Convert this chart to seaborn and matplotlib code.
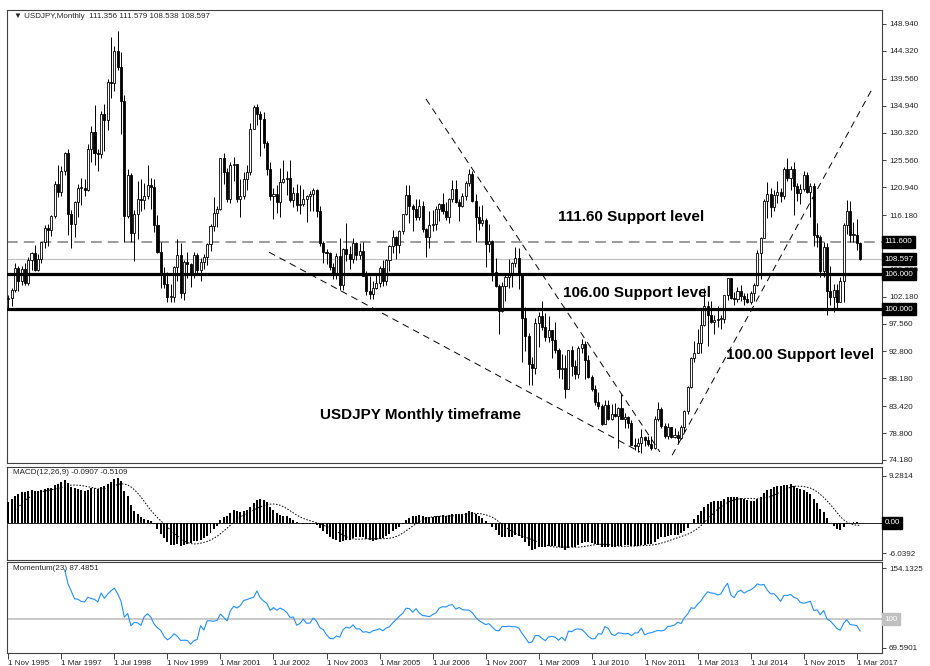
import numpy as np
import pandas as pd
import matplotlib
matplotlib.use("Agg")
import matplotlib.pyplot as plt
import seaborn as sns

sns.set_style("white")
plt.rcParams['font.family'] = ['Liberation Sans', 'DejaVu Sans']

# USDJPY monthly bars, May 1995 .. Apr 2017 (opens = previous close)
first_open = 83.7
close = [
    83.2, 84.6, 88.4, 97.4, 99.7, 101.7, 101.9, 103.4,
    107.1, 104.9, 107.0, 104.5, 108.5, 109.7, 106.8, 108.6, 111.5, 114.0, 113.6, 116.0,
    121.5, 120.2, 123.8, 126.9, 116.4, 114.6, 118.4, 120.8, 120.8, 120.5, 127.5, 130.5,
    126.9, 126.6, 133.5, 132.5, 139.0, 138.9, 144.3, 141.5, 135.7, 116.0, 123.1, 113.1,
    116.3, 119.0, 118.7, 119.4, 121.3, 121.0, 114.4, 109.9, 106.2, 104.3, 102.1, 102.2,
    107.2, 109.4, 102.8, 108.2, 107.8, 106.2, 109.4, 106.7, 108.1, 109.0, 111.2, 114.3,
    116.5, 117.3, 125.9, 123.6, 118.9, 124.7, 124.9, 118.9, 119.4, 122.3, 123.5, 131.0,
    134.7, 133.5, 132.7, 128.5, 124.0, 119.5, 119.8, 118.4, 121.8, 122.4, 122.5, 118.8,
    119.9, 117.9, 118.1, 119.0, 119.4, 119.8, 120.4, 116.8, 111.4, 109.9, 109.6, 107.2,
    105.9, 109.1, 104.2, 110.4, 109.5, 108.7, 111.4, 109.3, 110.0, 105.8, 103.1, 102.6,
    103.6, 104.6, 107.1, 104.8, 108.5, 110.9, 112.4, 111.0, 113.5, 116.3, 119.7, 117.8,
    117.2, 115.8, 117.7, 113.8, 112.5, 114.4, 114.6, 117.3, 118.1, 116.8, 115.8, 119.0,
    120.7, 118.5, 117.8, 119.5, 121.7, 123.2, 118.6, 115.8, 114.8, 115.3, 111.2, 111.7,
    106.4, 104.0, 99.7, 104.0, 105.5, 106.2, 108.0, 108.8, 106.0, 98.5, 95.5, 90.7,
    89.9, 97.6, 98.9, 97.0, 95.3, 96.4, 94.7, 93.0, 89.7, 90.0, 86.3, 93.0,
    90.3, 89.0, 93.4, 94.0, 91.3, 88.4, 86.4, 84.2, 83.5, 80.4, 83.6, 81.2,
    82.0, 81.8, 83.1, 81.2, 81.5, 80.5, 76.8, 76.6, 77.1, 78.2, 77.6, 76.9,
    76.3, 81.2, 82.9, 80.0, 78.3, 79.8, 78.1, 78.4, 77.9, 79.8, 82.5, 86.7,
    91.7, 92.6, 94.2, 97.4, 100.5, 99.1, 97.9, 98.2, 98.3, 98.4, 102.4, 105.3,
    102.0, 101.8, 103.2, 102.3, 101.8, 101.3, 102.8, 104.1, 109.6, 112.3, 118.6, 119.8,
    117.5, 119.6, 120.1, 119.4, 124.1, 122.5, 124.0, 121.2, 119.9, 120.6, 123.1, 120.2,
    121.1, 112.7, 112.5, 106.5, 110.7, 103.2, 102.1, 103.4, 101.3, 104.8, 114.5, 116.9,
    112.8, 112.8, 111.356, 108.597,
]
high = [
    85.2, 85.8, 89.3, 99.6, 100.6, 102.3, 102.5, 103.6,
    107.9, 107.5, 107.4, 108.0, 108.9, 109.8, 111.0, 109.5, 111.6, 114.5, 114.7, 116.2,
    122.0, 124.7, 124.6, 127.0, 127.5, 117.0, 118.6, 121.5, 122.5, 122.3, 128.3, 131.5,
    135.0, 127.5, 134.0, 135.3, 139.5, 146.7, 145.1, 147.7, 144.2, 136.8, 124.0, 123.4,
    117.0, 122.0, 122.4, 121.7, 124.7, 122.6, 122.3, 116.2, 111.5, 107.3, 106.4, 104.3,
    107.4, 112.0, 111.4, 108.4, 109.8, 108.0, 109.9, 109.6, 108.8, 109.5, 111.3, 114.6,
    119.2, 117.8, 126.0, 126.8, 124.3, 125.2, 126.1, 125.0, 122.3, 123.6, 124.8, 131.9,
    135.0, 135.2, 134.0, 133.8, 128.9, 125.2, 120.9, 121.4, 124.2, 125.6, 123.8, 125.7,
    121.0, 121.5, 121.4, 120.6, 119.6, 120.3, 120.8, 120.6, 117.7, 111.7, 110.4, 109.8,
    108.0, 109.7, 112.2, 110.5, 114.9, 110.8, 112.2, 111.5, 111.3, 111.5, 106.5, 105.7,
    104.9, 106.3, 107.5, 108.5, 108.6, 111.0, 113.7, 112.6, 113.6, 116.4, 121.4, 121.4,
    118.0, 119.0, 119.0, 118.6, 114.0, 116.9, 117.0, 117.8, 118.3, 119.9, 118.4, 119.1,
    122.2, 122.2, 118.9, 120.0, 122.0, 124.1, 123.7, 119.8, 117.8, 117.9, 115.6, 114.6,
    111.9, 108.8, 104.4, 104.7, 106.1, 108.6, 108.1, 110.7, 110.6, 106.3, 100.4, 96.0,
    91.8, 98.5, 99.6, 101.5, 99.4, 98.9, 96.5, 97.8, 93.3, 92.3, 92.2, 93.1,
    93.8, 91.3, 93.8, 94.9, 94.5, 92.1, 88.8, 87.1, 85.9, 83.7, 84.4, 84.5,
    83.7, 83.9, 83.3, 85.5, 82.2, 81.7, 81.0, 77.9, 77.9, 79.5, 78.3, 78.3,
    78.3, 81.7, 84.2, 83.2, 80.6, 80.6, 79.9, 79.6, 79.2, 80.2, 82.8, 86.8,
    91.8, 94.5, 96.7, 99.9, 103.7, 101.5, 101.5, 99.1, 100.6, 99.0, 102.5, 105.4,
    105.4, 102.9, 103.8, 104.1, 102.8, 102.8, 103.2, 104.5, 110.1, 112.5, 119.0, 121.8,
    120.8, 120.5, 122.0, 120.8, 124.5, 125.9, 124.6, 125.3, 121.7, 121.5, 123.8, 123.6,
    121.7, 121.7, 114.9, 112.7, 111.5, 111.4, 107.5, 104.3, 104.3, 105.5, 114.8, 118.7,
    118.6, 115.0, 115.5, 111.579,
]
low = [
    81.6, 82.6, 84.3, 87.3, 96.7, 98.4, 100.3, 100.6,
    102.9, 103.2, 104.2, 104.2, 104.2, 106.8, 106.5, 106.5, 107.9, 110.6, 110.8, 112.6,
    115.6, 119.3, 119.4, 123.0, 112.7, 110.6, 112.5, 115.8, 117.9, 119.4, 120.3, 125.3,
    124.7, 123.7, 126.0, 127.2, 130.8, 136.2, 137.5, 141.0, 130.1, 111.6, 115.6, 111.6,
    108.3, 112.0, 116.8, 117.2, 119.0, 117.3, 113.3, 109.7, 103.7, 103.6, 101.3, 101.2,
    101.2, 104.9, 102.0, 101.6, 105.3, 103.9, 105.3, 106.0, 104.9, 106.9, 107.6, 110.0,
    113.5, 114.2, 117.1, 121.5, 118.5, 118.3, 122.0, 118.4, 115.8, 119.0, 120.5, 123.0,
    130.9, 131.7, 126.3, 127.7, 123.0, 118.7, 115.5, 116.6, 115.8, 121.7, 119.7, 118.5,
    117.6, 116.9, 116.3, 117.8, 115.0, 116.8, 116.9, 115.9, 110.9, 107.9, 107.7, 106.8,
    105.2, 105.2, 103.4, 103.4, 108.3, 106.9, 107.9, 108.4, 108.6, 105.7, 102.5, 101.8,
    101.7, 103.5, 103.8, 104.0, 104.1, 106.6, 109.7, 108.7, 109.7, 112.9, 116.2, 114.8,
    113.4, 115.4, 115.3, 113.3, 108.9, 110.6, 113.4, 113.6, 115.2, 116.3, 115.4, 114.9,
    118.4, 118.3, 115.2, 117.5, 118.8, 121.2, 118.4, 111.6, 113.7, 114.3, 107.2, 109.9,
    104.9, 103.9, 95.7, 99.6, 101.4, 103.7, 103.8, 107.2, 103.5, 90.9, 92.9, 87.1,
    87.1, 88.9, 93.5, 96.5, 94.5, 94.4, 91.7, 92.5, 88.2, 88.0, 84.8, 86.3,
    88.5, 88.1, 88.2, 92.6, 88.0, 88.2, 86.0, 83.6, 82.9, 80.2, 80.3, 81.1,
    81.1, 81.5, 76.3, 81.2, 79.6, 79.7, 76.7, 75.9, 75.6, 75.3, 76.6, 76.6,
    75.9, 76.1, 80.9, 79.7, 78.0, 77.7, 77.9, 78.0, 77.1, 77.7, 79.0, 82.0,
    86.5, 90.9, 92.6, 92.6, 97.1, 93.8, 97.6, 95.8, 96.9, 96.6, 97.6, 101.6,
    101.8, 100.8, 101.2, 101.4, 100.8, 101.1, 101.0, 101.5, 104.0, 105.2, 112.3, 115.6,
    115.9, 116.9, 118.3, 118.5, 118.9, 122.0, 120.4, 116.2, 118.6, 118.1, 120.3, 119.9,
    115.9, 110.9, 110.7, 105.5, 105.5, 99.0, 100.7, 99.5, 100.1, 101.2, 101.2, 112.9,
    111.6, 111.6, 110.1, 108.538,
]

price_ticks = [148.94, 144.32, 139.56, 134.94, 130.32, 125.56, 120.94, 116.18,
               106.80, 102.18, 97.56, 92.80, 88.18, 83.42, 78.80, 74.18]
levels_main = [111.600, 108.597, 106.000, 100.000]
macd_ticks = [9.2814, -6.0392]
mom_ticks = [154.1325, 69.5901]

# trend lines: (bar, price) endpoints, bar 0 = Nov 1995
trend_lines = [
    ((126.0, 136.1), (196.6, 75.55)),
    ((78.7, 109.8), (190.6, 75.55)),
    ((200.3, 75.0), (260.9, 138.1)),
]

closes = np.array(close)
highs = np.array(high)
lows = np.array(low)
opens = np.concatenate([[first_open], closes[:-1]])
n = len(closes)
dates = pd.date_range("1995-05-01", periods=n, freq="MS")
pos = np.arange(n) - 6

s = pd.Series(closes)
macd = s.ewm(span=12, adjust=False).mean() - s.ewm(span=26, adjust=False).mean()
signal = macd.rolling(9).mean()
momentum = s / s.shift(23) * 100

W, H = 930, 666
fig = plt.figure(figsize=(9.3, 6.66), dpi=100)
fig.patch.set_facecolor("white")


def rect(l, t, r, b):
    return [l / W, 1 - b / H, (r - l) / W, (b - t) / H]


ax = fig.add_axes(rect(7, 10, 882, 463))
ax_m = fig.add_axes(rect(7, 467, 882, 560))
ax_o = fig.add_axes(rect(7, 562, 882, 653))

fs = 5.8
box_kw = dict(boxstyle="square,pad=0.3", fc="black", ec="black")
for a in (ax, ax_m, ax_o):
    a.set_xlim(-0.4, 263.6)
    a.set_facecolor("white")
    for sp in a.spines.values():
        sp.set_color("#404040")
        sp.set_linewidth(0.8)
    a.yaxis.tick_right()
    a.tick_params(axis="y", which="both", right=True, length=3, width=0.6,
                  direction="out", pad=2, labelsize=fs, colors="#222222")
    a.tick_params(axis="x", bottom=False, labelbottom=False)

# ---- price panel
ax.set_ylim(73.66, 151.34)
up = closes >= opens
body_lo = np.minimum(opens, closes)
body_h = np.maximum(np.abs(closes - opens), 0.15)
ax.vlines(pos, lows, highs, color="black", lw=0.7, zorder=3)
ax.bar(pos[up], body_h[up], bottom=body_lo[up], width=0.62, color="white",
       edgecolor="black", linewidth=0.6, zorder=4)
ax.bar(pos[~up], body_h[~up], bottom=body_lo[~up], width=0.62, color="black",
       edgecolor="black", linewidth=0.6, zorder=4)

ax.axhline(levels_main[0], color="#808080", lw=1.1, ls=(0, (7, 4)), zorder=2)
ax.axhline(levels_main[1], color="#C0C0C0", lw=0.8, zorder=2)
ax.axhline(levels_main[2], color="black", lw=2.3, zorder=5)
ax.axhline(levels_main[3], color="black", lw=2.3, zorder=5)
for (x0, y0), (x1, y1) in trend_lines:
    ax.plot([x0, x1], [y0, y1], color="black", lw=0.7, ls=(0, (7, 5)), zorder=5)

ax.set_yticks(price_ticks)
ax.set_yticklabels([f"{v:.3f}" for v in price_ticks])
ytr = ax.get_yaxis_transform()
for v in levels_main:
    ax.text(1.003, v, f"{v:.3f}", transform=ytr, fontsize=fs, color="white",
            va="center", ha="left", zorder=10, clip_on=False, bbox=box_kw)

fig.text(14 / W, 1 - 16 / H,
         f"\u25bc USDJPY,Monthly  {opens[-1]:.3f} {highs[-1]:.3f} {lows[-1]:.3f} {closes[-1]:.3f}",
         fontsize=fs, va="center", ha="left")

ann_kw = dict(fontsize=11, fontweight="bold", va="center", ha="left", color="black")
fig.text(558 / W, 1 - 217 / H, "111.60 Support level", **ann_kw)
fig.text(563 / W, 1 - 293 / H, "106.00 Support level", **ann_kw)
fig.text(726 / W, 1 - 355 / H, "100.00 Support level", **ann_kw)
fig.text(320 / W, 1 - 415 / H, "USDJPY Monthly timeframe", **ann_kw)

# ---- MACD panel
ax_m.set_ylim(-7.43, 11.07)
ax_m.bar(pos, macd, width=0.6, color="black", linewidth=0, zorder=3)
ax_m.axhline(0, color="black", lw=0.6, zorder=2)
ax_m.plot(pos, signal, color="black", lw=0.7, ls=(0, (1.6, 1.6)), zorder=4)
ax_m.set_yticks(macd_ticks)
ax_m.set_yticklabels([f"{v:.4f}" for v in macd_ticks])
ax_m.text(1.003, 0, "0.00", transform=ax_m.get_yaxis_transform(), fontsize=fs,
          color="white", va="center", ha="left", clip_on=False, bbox=box_kw)
fig.text(13 / W, 1 - 472 / H, "MACD(12,26,9) -0.0907 -0.5109", fontsize=fs,
         va="center", ha="left")

# ---- Momentum panel
ax_o.set_ylim(64.3, 160.5)
mom_df = pd.DataFrame({"x": pos, "mom": momentum}).dropna()
ax_o.axhline(100, color="#C0C0C0", lw=1.2, zorder=2)
sns.lineplot(data=mom_df, x="x", y="mom", ax=ax_o, color="#1E90FF", lw=0.8, zorder=3)
ax_o.set_xlabel("")
ax_o.set_ylabel("")
ax_o.set_yticks(mom_ticks)
ax_o.set_yticklabels([f"{v:.4f}" for v in mom_ticks])
ax_o.text(1.003, 100, "100", transform=ax_o.get_yaxis_transform(), fontsize=fs,
          color="white", va="center", ha="left", clip_on=False,
          bbox=dict(boxstyle="square,pad=0.3", fc="#C0C0C0", ec="#C0C0C0"))
fig.text(13 / W, 1 - 569 / H, "Momentum(23) 87.4851", fontsize=fs,
         va="center", ha="left")

tick_pos = np.arange(0, 257, 16)
ax_o.set_xticks(tick_pos)
ax_o.set_xticklabels([f"1 {dates[p + 6].strftime('%b %Y')}" for p in tick_pos])
ax_o.tick_params(axis="x", bottom=True, labelbottom=True, length=4, width=0.6,
                 direction="out", pad=1, labelsize=fs, colors="#222222")
for lbl in ax_o.get_xticklabels():
    lbl.set_horizontalalignment("left")
ax_o.set_xlim(-0.4, 263.6)

fig.savefig("out.png", dpi=100)
